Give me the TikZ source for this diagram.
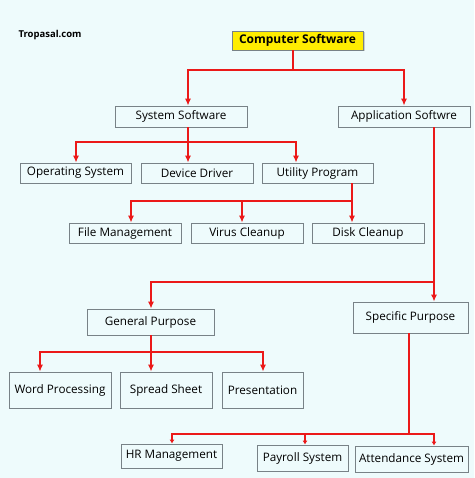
\documentclass[tikz,border=0pt]{standalone}
\usepackage{fontspec}
\setmainfont{Open Sans}
\usetikzlibrary{arrows.meta, shadows}
\definecolor{paper}{RGB}{238,251,252}
\definecolor{linkred}{RGB}{235,25,25}
\definecolor{boxgray}{RGB}{120,130,135}
\tikzset{
  item box/.style={
    draw=boxgray,
    line width=0.8pt,
    inner sep=0pt,
    font=\fontsize{11.7}{13}\selectfont,
  },
  top box/.style={
    item box,
    fill=yellow!95!orange,
    font=\fontsize{12}{14}\selectfont\bfseries,
    drop shadow={shadow xshift=1.5pt, shadow yshift=-1.5pt, fill=gray!70},
  },
  link/.style={
    draw=linkred,
    line width=1.3pt,
    -{Latex[length=7pt,width=6pt]},
  },
  bare link/.style={
    draw=linkred,
    line width=1.3pt,
  },
}
\begin{document}
\begin{tikzpicture}[x=1pt, y=-1pt]
      \useasboundingbox[fill=paper] (0,0) rectangle (474,478);
      \node[font=\fontsize{9.5}{12}\selectfont\bfseries] (site) at (50,35) {Tropasal.com};

      \node[top box, minimum width=131pt, minimum height=19pt] (cs) at (297.5,40.5) {Computer Software};

      \node[item box, minimum width=132pt, minimum height=21pt] (sys) at (181,116.5) {System Software};
      \node[item box, minimum width=132pt, minimum height=21pt] (app) at (404,116.5) {Application Softwre};

      \node[item box, minimum width=111pt, minimum height=20pt] (os) at (75.5,173) {Operating System};
      \node[item box, minimum width=112pt, minimum height=20pt] (dd) at (197,173) {Device Driver};
      \node[item box, minimum width=111pt, minimum height=20pt] (up) at (317.5,173) {Utility Program};

      \node[item box, minimum width=112pt, minimum height=20pt] (fm) at (125,233) {File Management};
      \node[item box, minimum width=112pt, minimum height=20pt] (vc) at (247,233) {Virus Cleanup};
      \node[item box, minimum width=112pt, minimum height=20pt] (dc) at (368,233) {Disk Cleanup};

      \node[item box, minimum width=127pt, minimum height=26pt] (gp) at (150.5,322) {General Purpose};
      \node[item box, minimum width=115pt, minimum height=31pt] (sp) at (410.5,317.5) {Specific Purpose};

      \node[item box, minimum width=102pt, minimum height=36pt] (wp) at (60,390) {Word Processing};
      \node[item box, minimum width=92pt, minimum height=36pt] (ss) at (166,390) {Spread Sheet};
      \node[item box, minimum width=81pt, minimum height=36pt] (pr) at (262.5,390) {Presentation};

      \node[item box, minimum width=101pt, minimum height=24pt] (hr) at (171.5,456) {HR Management};
      \node[item box, minimum width=91pt, minimum height=26pt] (ps) at (302.5,458) {Payroll System};
      \node[item box, minimum width=113pt, minimum height=26pt] (as) at (411.5,459) {Attendance System};

      % top level
      \draw[bare link] (cs.south -| 293,0) -- (293,70);
      \draw[link] (293,70) -| (sys.north -| 188,0);
      \draw[link] (293,70) -| (app.north);

      % system software
      \draw[bare link] (sys.south -| 188,0) -- (188,142);
      \draw[link] (188,142) -| (os.north -| 76,0);
      \draw[link] (188,142) -- (dd.north -| 188,0);
      \draw[link] (188,142) -| (up.north -| 296,0);

      % utility program
      \draw[bare link] (up.south -| 352,0) -- (352,201);
      \draw[link] (352,201) -| (fm.north -| 131,0);
      \draw[link] (352,201) -| (vc.north -| 242,0);
      \draw[link] (352,201) -- (dc.north -| 352,0);

      % application software
      \draw[bare link] (app.south -| 434,0) -- (434,282);
      \draw[link] (434,282) -| (gp.north -| 151,0);
      \draw[link] (434,282) -- (sp.north -| 434,0);

      % general purpose
      \draw[bare link] (gp.south -| 151,0) -- (151,352);
      \draw[link] (151,352) -| (wp.north -| 40,0);
      \draw[link] (151,352) -- (ss.north -| 151,0);
      \draw[link] (151,352) -| (pr.north -| 263,0);

      % specific purpose
      \draw[bare link] (sp.south -| 409,0) -- (409,434);
      \draw[link, -{Latex[length=4pt,width=5pt]}] (409,434) -| (hr.north -| 172,0);
      \draw[link, -{Latex[length=4pt,width=5pt]}] (409,434) -| (ps.north -| 305,0);
      \draw[link, -{Latex[length=4pt,width=5pt]}] (409,434) -| (as.north -| 434,0);
    \end{tikzpicture}
\end{document}
